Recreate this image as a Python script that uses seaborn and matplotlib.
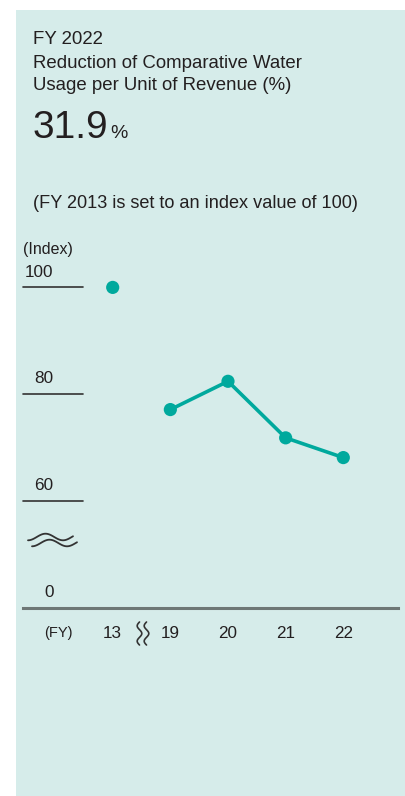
import matplotlib
matplotlib.use("Agg")
import matplotlib.pyplot as plt
from matplotlib.patches import Rectangle
from matplotlib.lines import Line2D
from matplotlib.transforms import blended_transform_factory, ScaledTranslation
import numpy as np
import seaborn as sns

# ---- data ----
fiscal_years = ["13", "19", "20", "21", "22"]
index_values = [100.0, 77.1, 82.4, 71.8, 68.1]
ytick_values = [40, 60, 80, 100]          # 40 = broken-axis position of "0"
ytick_labels = ["0", "60", "80", "100"]
x_axis_label = "(FY)"

TEAL = "#00a99d"
BG = "#d6ecea"
TXT = "#231f20"

sns.set_theme(style="white")
plt.rcParams["font.family"] = ["Liberation Sans", "DejaVu Sans"]

W, H = 405, 796
fig = plt.figure(figsize=(W / 100, H / 100), dpi=100)
fig.patch.set_facecolor("white")

def px(x, y):
    return (x / W, 1 - y / H)

# background panel
x0, _ = px(16, 796)
fig.patches.append(Rectangle((x0, 0), 1 - x0, 1 - 10 / H, transform=fig.transFigure,
                             facecolor=BG, edgecolor="none", zorder=-10))

# header texts
HF = 13.4
fig.text(*px(33, 44), "FY 2022", fontsize=HF, color=TXT, va="baseline")
fig.text(*px(33, 67.5), "Reduction of Comparative Water", fontsize=HF, color=TXT, va="baseline")
fig.text(*px(33, 90.5), "Usage per Unit of Revenue (%)", fontsize=HF, color=TXT, va="baseline")
fig.text(*px(33, 138), "31.9", fontsize=28, color=TXT, va="baseline")
fig.text(*px(110, 138), "%", fontsize=14, color=TXT, va="baseline")
fig.text(*px(33, 208.5), "(FY 2013 is set to an index value of 100)", fontsize=13.1, color=TXT, va="baseline")
fig.text(*px(23, 254), "(Index)", fontsize=11.5, color=TXT, va="baseline")

# axes geometry (pixels)
ax_left, ax_right, ax_bottom, ax_top = 23, 398, 607.5, 250
ppu = 5.335
x_first, x_step = 112.7, 57.65
ax = fig.add_axes([ax_left / W, (H - ax_bottom) / H, (ax_right - ax_left) / W, (ax_bottom - ax_top) / H])
ax.set_facecolor("none")
ax.set_ylim(40, 40 + (ax_bottom - ax_top) / ppu)
ax.set_xlim((ax_left - x_first) / x_step, (ax_right - x_first) / x_step)

pos = np.arange(len(fiscal_years))
sns.lineplot(x=pos[1:], y=index_values[1:], ax=ax, color=TEAL, linewidth=2.6, zorder=3)
sns.scatterplot(x=pos, y=index_values, ax=ax, color=TEAL, s=90, edgecolor="none", zorder=4)

for s in ["top", "right", "left"]:
    ax.spines[s].set_visible(False)
ax.spines["bottom"].set_color("#6e7776")
ax.spines["bottom"].set_linewidth(2.2)

# y ticks: short lines with labels above
ax.set_yticks([])
trans = blended_transform_factory(ax.transAxes, ax.transData)
short_end = (83 - ax_left) / (ax_right - ax_left)
label_x = (53.5 - ax_left) / (ax_right - ax_left)
for v, lab in zip(ytick_values, ytick_labels):
    if v != 40:
        ax.plot([0, short_end], [v, v], transform=trans, color="#333333", lw=1.2, clip_on=False)
    ax.annotate(lab, xy=(label_x, v), xycoords=trans, xytext=(0, 5.5), textcoords="offset points",
                ha="right", va="bottom", fontsize=12.3, color=TXT)

# x ticks
ax.set_xticks([-1] + list(pos))
ax.set_xticklabels([x_axis_label] + fiscal_years)
ax.tick_params(axis="x", length=0, pad=13.5, labelsize=12.3, labelcolor=TXT)
fy_lab = ax.get_xticklabels()[0]
fy_lab.set_fontsize(10.5)
fy_lab.set_transform(fy_lab.get_transform() + ScaledTranslation(3 / 100, 0, fig.dpi_scale_trans))
ax.set_xlabel("")
ax.set_ylabel("")

# axis-break marks
t = np.linspace(0, 1, 80)
for dx, dy in [(0, 0), (4, 6)]:
    xs = 28 + dx + 45 * t
    ys = 537 + dy + 3.3 * np.cos(2 * np.pi * (45 * t) / 35)
    fig.add_artist(Line2D(xs / W, 1 - ys / H, transform=fig.transFigure, color="#333333", lw=1.3))
for dx in [0, 7]:
    ys = 622 + 23 * t
    xs = 139.5 + dx - 2.3 * np.sin(2 * np.pi * t * 1.5)
    fig.add_artist(Line2D(xs / W, 1 - ys / H, transform=fig.transFigure, color="#333333", lw=1.2))

fig.savefig("out.png", dpi=100, facecolor=fig.get_facecolor())
